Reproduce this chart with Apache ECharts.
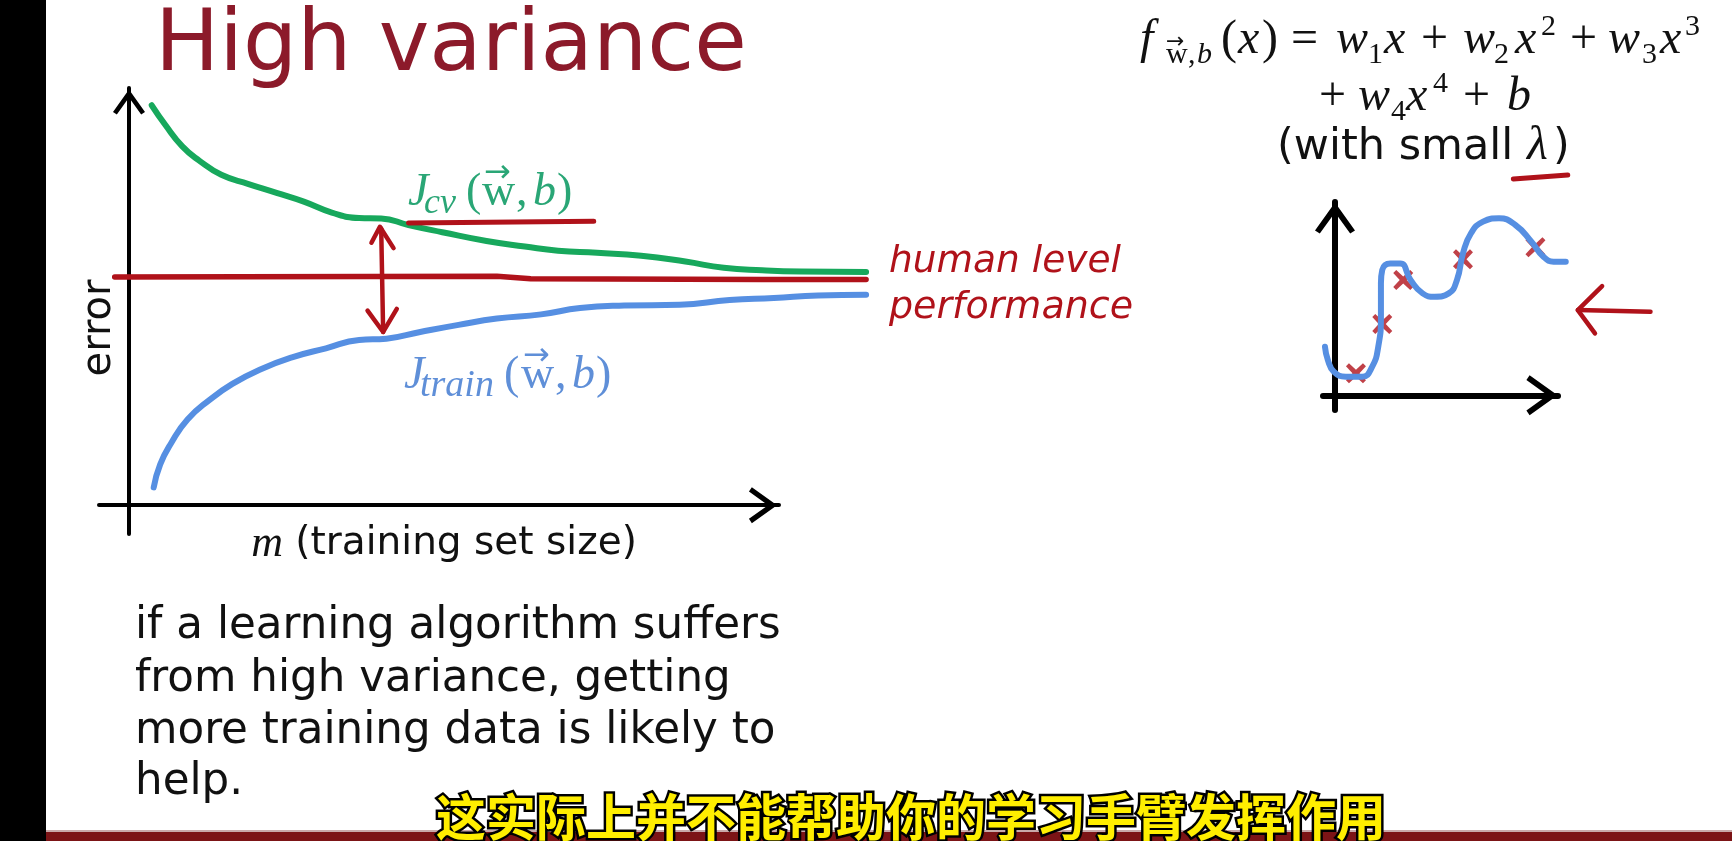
<!DOCTYPE html>
<html><head><meta charset="utf-8">
<style>html,body{margin:0;padding:0;background:#fff}#c{width:1732px;height:841px}</style>
<script src="https://cdn.jsdelivr.net/npm/echarts@6/dist/echarts.min.js"></script>
</head><body><div id="c"></div>
<script>
// Main learning-curve chart (m as % of axis, error as % of axis)
const cvCurve = [[3.5,95.4],[5.6,90.7],[8.2,85.6],[10.8,82.2],[14.2,78.8],[18.4,76.6],[22.7,74.5],[26.9,72.4],[31.2,69.8],[35.4,68.5],[38.8,68.4],[43,66.8],[48.2,65.1],[55,63],[60.9,61.7],[66,60.7],[72,60.2],[78.8,59.5],[85.6,58.1],[91.5,56.6],[97.4,56],[103.4,55.7],[113.4,55.6]];
const trainCurve = [[3.8,4.2],[4.8,9.7],[6.5,14.8],[9,20.4],[12.4,25.1],[15.9,28.9],[20.1,32.3],[25.2,35.3],[30.3,37.4],[35.4,39.4],[39.6,39.7],[44.8,41.3],[50.7,43],[56.6,44.5],[63.4,45.5],[69.4,47],[76.2,47.6],[84.7,47.8],[92.4,48.9],[99.2,49.4],[106,50],[113.4,50.2]];
const humanLevel = [[-2.2,54.4],[56.6,54.6],[61.8,54],[97.4,53.8],[113.4,53.8]];
const cvUnderline = [[43,67.3],[71.5,67.7]];
const gapShaft = [[38.8,66],[39.1,41.3]];
const gapTopHead = [[37.3,62.6],[38.6,66.4],[40.7,61.3]];
const gapBottomHead = [[36.7,46.4],[39.1,41.3],[41.2,46.8]];
// Small inset chart
const fitCurve = [[-4.5,24.5],[-3.2,17.8],[-0.5,11.8],[4.9,9.3],[12.2,9.3],[16.7,14.4],[19.4,24.5],[20.6,39.8],[20.6,56.7],[21.2,63.5],[24.8,66.8],[29.3,66.8],[33.9,58.4],[39.3,51.6],[44.7,49.9],[51,51.6],[54.7,58.4],[57.4,71.9],[61,82.1],[66.4,88],[73.6,89.7],[80.9,86.3],[88.1,77.8],[93.5,70.2],[98,67.7],[103.5,67.7]];
const fitPoints = [[9.4,11],[21.2,36],[30.6,58.4],[57.4,68.9],[89.9,75]];
const pointerArrow = [[119.8,55.3],[108.9,43.1],[116.6,31.3]];
const pointerShaft = [[108.9,43.1],[141.5,42.3]];
const lambdaUnderline = [[80,109.6],[104.4,111.7]];

const RED='#b0121a', GREEN='#17a85c', BLUE='#568fe2', DARK='#111', SANS='DejaVu Sans', SERIF='Liberation Serif';
const TEAL='#2aa676', SOFTBLUE='#5f8fd8', M=48, S=30;
// text, x, baseline, size, family, style, colour
const labels = [
 ['High variance',155,68,85.5,SANS,'normal','#8c1a2a'],
 ['if a learning algorithm suffers',135,637,43.6,SANS,'normal',DARK],
 ['from high variance, getting',135,690,43.6,SANS,'normal',DARK],
 ['more training data is likely to',135,742,43.6,SANS,'normal',DARK],
 ['help.',135,793,43.6,SANS,'normal',DARK],
 ['human level',889,271,37.5,SANS,'italic',RED],
 ['performance',889,317,38,SANS,'italic',RED],
 ['J',408,204,46,SERIF,'italic',TEAL],['cv',424,212,36,SERIF,'italic',TEAL],
 ['(',466,204,46,SERIF,'normal',TEAL],['w',482,204,46,SERIF,'normal',TEAL],[',',516,204,46,SERIF,'normal',TEAL],['b',533,204,46,SERIF,'italic',TEAL],[')',557,204,46,SERIF,'normal',TEAL],
 ['→',484,181,32,SANS,'normal',TEAL],
 ['J',404,387,46,SERIF,'italic',SOFTBLUE],['train',420,395,38,SERIF,'italic',SOFTBLUE],
 ['(',504,387,46,SERIF,'normal',SOFTBLUE],['w',521,387,46,SERIF,'normal',SOFTBLUE],[',',555,387,46,SERIF,'normal',SOFTBLUE],['b',572,387,46,SERIF,'italic',SOFTBLUE],[')',596,387,46,SERIF,'normal',SOFTBLUE],
 ['→',523,364,32,SANS,'normal',SOFTBLUE],
 ['f',1140,52,M,SERIF,'italic',DARK],
 ['w',1166,62,S,SERIF,'normal',DARK],[',',1188,62,S,SERIF,'normal',DARK],['b',1197,62,S,SERIF,'italic',DARK],
 ['→',1166,48,22,SANS,'normal',DARK],
 ['(',1221,52,M,SERIF,'normal',DARK],['x',1238,52,M,SERIF,'italic',DARK],[')',1262,52,M,SERIF,'normal',DARK],
 ['=',1291,52,M,SERIF,'normal',DARK],
 ['w',1336,52,M,SERIF,'italic',DARK],['1',1368,62,S,SERIF,'normal',DARK],['x',1384,52,M,SERIF,'italic',DARK],
 ['+',1421,52,M,SERIF,'normal',DARK],
 ['w',1463,52,M,SERIF,'italic',DARK],['2',1494,62,S,SERIF,'normal',DARK],['x',1515,52,M,SERIF,'italic',DARK],['2',1541,34,S,SERIF,'normal',DARK],
 ['+',1570,52,M,SERIF,'normal',DARK],
 ['w',1608,52,M,SERIF,'italic',DARK],['3',1642,62,S,SERIF,'normal',DARK],['x',1660,52,M,SERIF,'italic',DARK],['3',1685,34,S,SERIF,'normal',DARK],
 ['+',1319,109,M,SERIF,'normal',DARK],
 ['w',1358,109,M,SERIF,'italic',DARK],['4',1391,119,S,SERIF,'normal',DARK],['x',1406,109,M,SERIF,'italic',DARK],['4',1433,91,S,SERIF,'normal',DARK],
 ['+',1463,109,M,SERIF,'normal',DARK],
 ['b',1507,109,M,SERIF,'italic',DARK],
 ['(with small',1277,158,43,SANS,'normal',DARK],
 ['λ',1527,158,48,SERIF,'italic',DARK],
 [')',1553,158,43,SANS,'normal',DARK]
];
const subtitle = '这实际上并不能帮助你的学习手臂发挥作用';

const graphics = [
 {type:'rect',shape:{x:0,y:0,width:46,height:841},style:{fill:'#000'},z:0},
 {type:'rect',shape:{x:46,y:832,width:1686,height:9},style:{fill:'#7c1416'},z:0},
 {type:'rect',shape:{x:46,y:830,width:1686,height:2},style:{fill:'#c9a9a9'},z:0}
];
labels.forEach(l=>graphics.push({type:'text',x:l[1],y:l[2]-0.24*l[3],z:5,style:{text:l[0],font:`${l[5]} ${l[3]}px "${l[4]}"`,fill:l[6],textAlign:'left',verticalAlign:'middle'}}));
graphics.push({type:'text',x:911,y:817,z:20,style:{text:subtitle,font:'bold 50px "Noto Sans CJK SC"',fill:'#ffee00',stroke:'#000',lineWidth:5,textAlign:'center',verticalAlign:'middle'}});

function line(name,data,color,width,ax,smooth){
  return {name,type:'line',data,xAxisIndex:ax,yAxisIndex:ax,showSymbol:false,symbol:'none',smooth:smooth?0.5:false,clip:false,silent:true,animation:false,
    lineStyle:{color,width,cap:'round',join:'round'},z:3};
}
const chevron='path://M0 0 L10 14 L7.6 15.6 L0 5 L-7.6 15.6 L-10 14 Z';
function axisLine(size,off,w){return {show:true,onZero:true,symbol:['none',chevron],symbolSize:size,symbolOffset:[0,off],lineStyle:{color:'#000',width:w}};}
const bare={axisTick:{show:false},axisLabel:{show:false},splitLine:{show:false}};
const MAIN=2, INSET=3; // hidden, wider scales that carry the marks past the drawn axes

const chart=echarts.init(document.getElementById('c'),null,{renderer:'canvas'});
chart.setOption({
 animation:false,backgroundColor:'#fff',
 grid:[
  {left:99,right:953,top:88,bottom:307},
  {left:1323,right:174,top:202,bottom:431},
  {left:99,right:855.5,top:86,bottom:307},
  {left:1323,right:73.7,top:168.45,bottom:431}
 ],
 xAxis:[
  {type:'value',gridIndex:0,min:-4.615,max:100,axisLine:axisLine([36,36],-16,4),...bare,
   name:'{m|m} (training set size)',nameLocation:'middle',nameGap:-12,nameTextStyle:{fontFamily:SANS,fontSize:39,color:'#111',padding:[0,0,0,10],rich:{m:{fontFamily:SERIF,fontStyle:'italic',fontSize:44,color:'#111'}}}},
  {type:'value',gridIndex:1,min:-5.38,max:100,axisLine:axisLine([40,40],-16,6),...bare},
  {type:'value',gridIndex:2,min:-4.615,max:115,show:false},
  {type:'value',gridIndex:3,min:-5.38,max:145,show:false}
 ],
 yAxis:[
  {type:'value',gridIndex:0,min:-6.92,max:100,axisLine:axisLine([32,32],-14,4),...bare,
   name:'error',nameLocation:'middle',nameGap:-21,nameTextStyle:{fontFamily:SANS,fontSize:40,color:'#111',padding:[0,34,0,0]}},
  {type:'value',gridIndex:1,min:-7.6,max:100,axisLine:axisLine([40,40],-16,6),...bare},
  {type:'value',gridIndex:2,min:-6.92,max:100,show:false},
  {type:'value',gridIndex:3,min:-7.6,max:115,show:false}
 ],
 series:[
  line('J_cv',cvCurve,GREEN,6,MAIN,true),
  line('human level performance',humanLevel,RED,5.5,MAIN,false),
  line('J_train',trainCurve,BLUE,6,MAIN,true),
  line('cv underline',cvUnderline,RED,5,MAIN,false),
  line('gap shaft',gapShaft,RED,4.5,MAIN,false),
  line('gap top',gapTopHead,RED,4.5,MAIN,false),
  line('gap bottom',gapBottomHead,RED,4.5,MAIN,false),
  {name:'training points',type:'scatter',data:fitPoints,xAxisIndex:INSET,yAxisIndex:INSET,symbol:'path://M-7 -10 L0 -3.5 L7 -10 L10 -7 L3.5 0 L10 7 L7 10 L0 3.5 L-7 10 L-10 7 L-3.5 0 L-10 -7 Z',symbolSize:20,itemStyle:{color:RED},silent:true,z:2,clip:false},
  line('fit',fitCurve,BLUE,6,INSET,true),
  line('pointer',pointerArrow,RED,4.5,INSET,false),
  line('pointer shaft',pointerShaft,RED,4.5,INSET,false),
  line('lambda underline',lambdaUnderline,RED,5,INSET,false)
 ],
 graphic:{elements:graphics}
});
</script></body></html>
